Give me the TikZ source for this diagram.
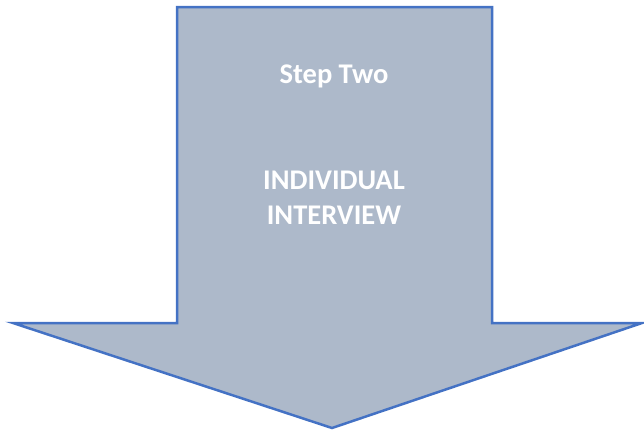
\documentclass[tikz,border=0pt]{standalone}
\usepackage{fontspec}
\setmainfont{Carlito}
\definecolor{arrowfill}{HTML}{ADB9CA}
\definecolor{arrowline}{HTML}{4472C4}
\begin{document}
\begin{tikzpicture}[x=1pt,y=-1pt,
  arrowshape/.style={fill=arrowfill,draw=arrowline,line width=2.5pt,line join=miter},
  label/.style={text=white,font=\fontsize{28.5}{35}\selectfont\bfseries,anchor=base,inner sep=0pt}]
\useasboundingbox (0,0) rectangle (644,431);
\coordinate (a1) at (177,7);
\coordinate (a2) at (492,7);
\coordinate (a3) at (492,323);
\coordinate (a4) at (642,323);
\coordinate (tip) at (332,428);
\coordinate (a6) at (13,323);
\coordinate (a7) at (177,323);
\draw[arrowshape] (a1) -- (a2) -- (a3) -- (a4) -- (tip) -- (a6) -- (a7) -- cycle;
\node[label] (step) at (334,83) {Step Two};
\node[label] (ind) at (334,189) {INDIVIDUAL};
\node[label] (int) at (334,224) {INTERVIEW};
\end{tikzpicture}
\end{document}
